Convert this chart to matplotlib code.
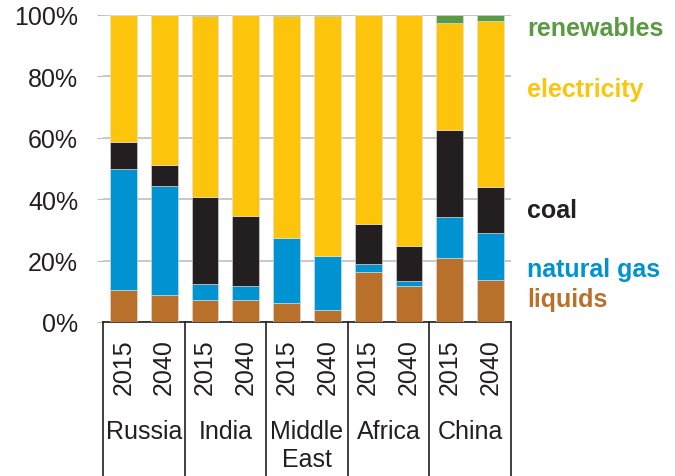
import numpy as np
import matplotlib
matplotlib.use('Agg')
import matplotlib.pyplot as plt
import matplotlib.transforms as mtransforms

plt.rcParams['font.family'] = ['Liberation Sans', 'DejaVu Sans']

# Data (shares of final energy, %)
regions = ['Russia', 'India', 'Middle\nEast', 'Africa', 'China']
years = ['2015', '2040']
liquids = [10.4, 8.8, 7.2, 7.2, 6.2, 3.9, 16.4, 11.6, 20.7, 13.7]
natural_gas = [39.3, 35.4, 5.2, 4.5, 21.3, 17.6, 2.5, 1.9, 13.6, 15.2]
coal = [9.0, 7.0, 28.3, 22.9, 0.0, 0.0, 12.9, 11.4, 28.3, 15.1]
renewables = [0.0, 0.0, 0.4, 0.0, 0.4, 0.3, 0.0, 0.0, 2.5, 1.9]
electricity = [100 - a - b - c - d for a, b, c, d in zip(liquids, natural_gas, coal, renewables)]

series = [
    ('liquids', liquids, '#B8702B'),
    ('natural gas', natural_gas, '#0093D2'),
    ('coal', coal, '#231F20'),
    ('electricity', electricity, '#FCC50C'),
    ('renewables', renewables, '#5A9A42'),
]
label_y = {'liquids': 7.6, 'natural gas': 17.2, 'coal': 36.4,
           'electricity': 75.8, 'renewables': 95.6}

fig = plt.figure(figsize=(6.75, 4.77), dpi=100)
ax = fig.add_axes([0.1526, 0.3229, 0.6044, 0.6436])

x = np.arange(len(liquids))
bottom = np.zeros(len(x))
for name, vals, col in series:
    ax.bar(x, vals, bottom=bottom, width=0.66, color=col,
           edgecolor='#e0e0e0', linewidth=0.4, zorder=3)
    bottom += np.array(vals)
    ax.text(1.039, label_y[name], name, transform=ax.get_yaxis_transform(),
            color=col, fontsize=18, fontweight='bold', va='center', ha='left')

ax.set_xlim(-0.5, len(x) - 0.5)
ax.set_ylim(0, 100)
ax.set_yticks(np.arange(0, 101, 20))
ax.set_yticklabels([f'{v}%' for v in range(0, 101, 20)], fontsize=18, color='#231F20')
ax.tick_params(axis='y', length=4, color='#bfbfbf', pad=14)
ax.yaxis.grid(True, color='#c4c4c4', linewidth=1.3, zorder=0)
ax.set_axisbelow(True)
ax.set_xticks([])
for s in ['left', 'right', 'top']:
    ax.spines[s].set_visible(False)
ax.spines['bottom'].set_color('#231F20')
ax.spines['bottom'].set_linewidth(1.2)

trans = mtransforms.blended_transform_factory(ax.transData, ax.transAxes)
for i, xi in enumerate(x):
    ax.text(xi, -0.145, years[i % 2], transform=trans, rotation=90,
            ha='center', va='center', fontsize=18, color='#231F20')
for g, reg in enumerate(regions):
    ax.text(2 * g + 0.5, -0.316, reg, transform=trans, ha='center', va='top',
            fontsize=18, color='#231F20', linespacing=1.2)
for b in np.arange(-0.5, len(x), 2):
    ax.plot([b, b], [0, -0.51], transform=trans, color='#231F20',
            linewidth=1.2, clip_on=False)

fig.savefig('out.png', dpi=100)
